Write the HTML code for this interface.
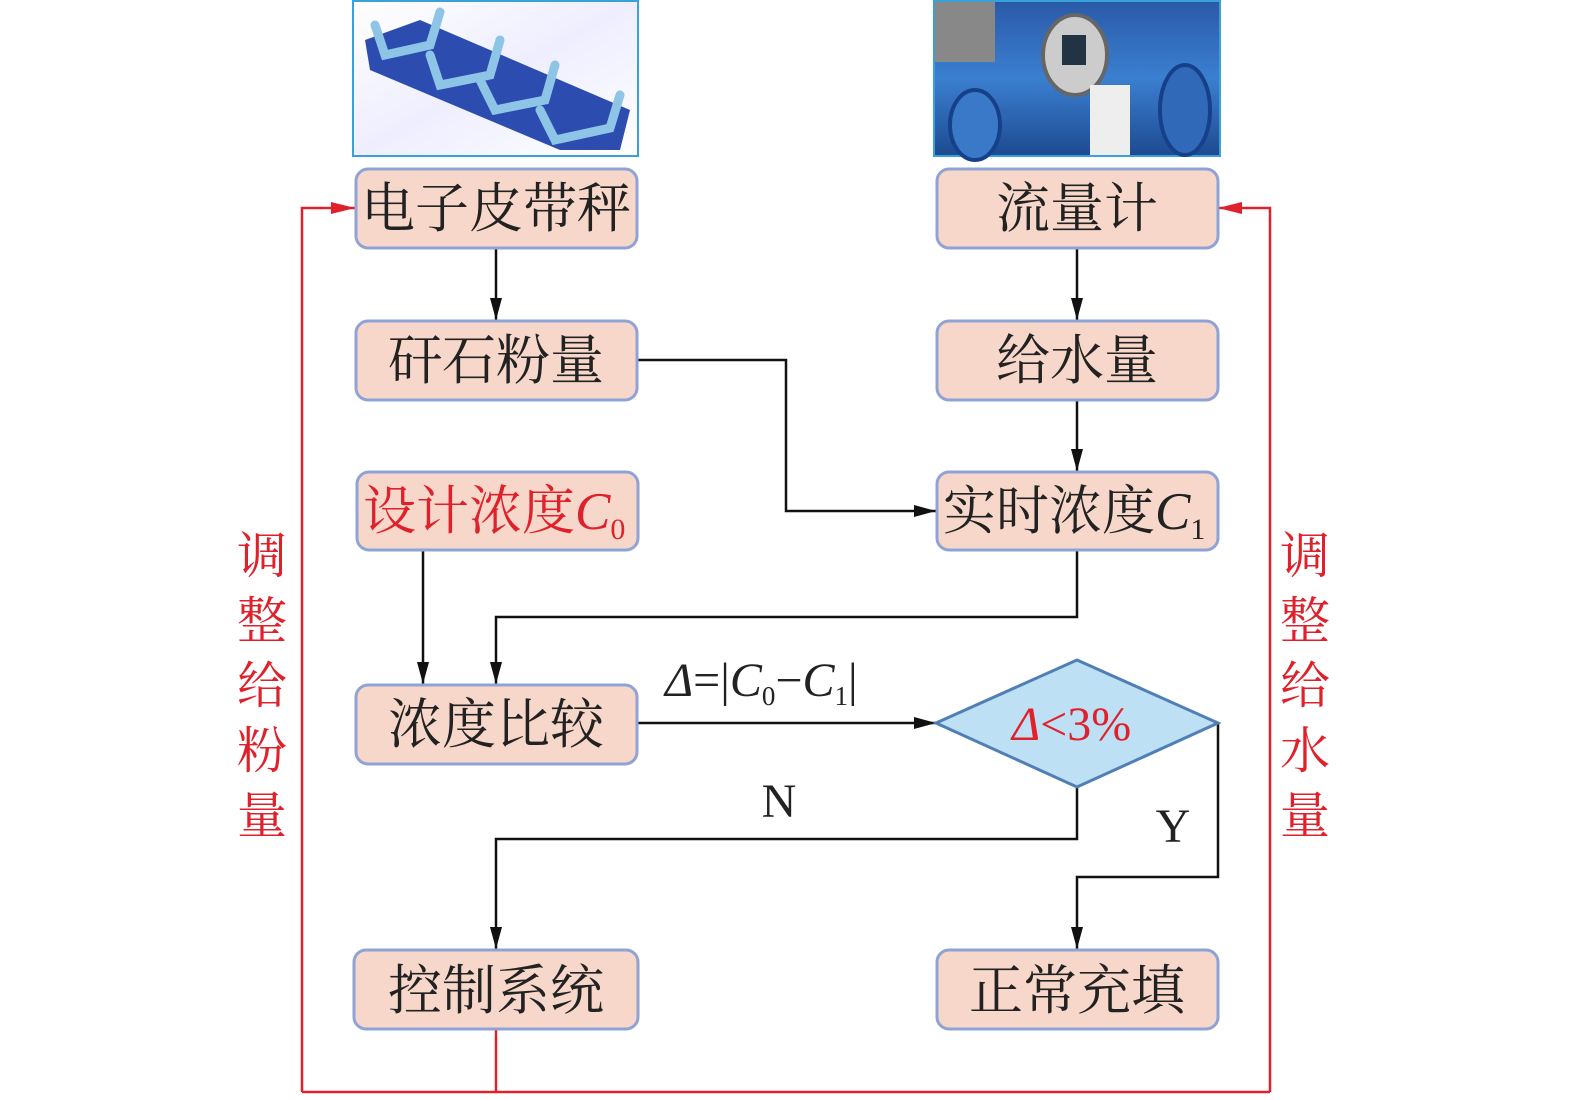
<!DOCTYPE html>
<html><head><meta charset="utf-8"><style>
html,body{margin:0;padding:0;background:#fff;width:1575px;height:1100px;overflow:hidden}
text{font-family:"Liberation Serif","Noto Serif CJK SC","Noto Sans CJK SC",serif}
</style></head><body>
<svg width="1575" height="1100" viewBox="0 0 1575 1100" xmlns="http://www.w3.org/2000/svg">
<defs>
<marker id="a" markerWidth="22" markerHeight="12" refX="22" refY="6" orient="auto" markerUnits="userSpaceOnUse"><path d="M0,0 L22,6 L0,12 Z" fill="#111"/></marker>
<marker id="r" markerWidth="24" markerHeight="12" refX="24" refY="6" orient="auto" markerUnits="userSpaceOnUse"><path d="M0,0 L24,6 L0,12 Z" fill="#e0202a"/></marker>
<linearGradient id="g1" x1="0" y1="0" x2="1" y2="1"><stop offset="0" stop-color="#fff"/><stop offset="0.5" stop-color="#eef"/><stop offset="1" stop-color="#fff"/></linearGradient>
<linearGradient id="g2" x1="0" y1="0" x2="0" y2="1"><stop offset="0" stop-color="#2a5aa8"/><stop offset="0.5" stop-color="#3b7fd0"/><stop offset="1" stop-color="#1d4a90"/></linearGradient>
</defs>
<rect x="353" y="1" width="285" height="155" fill="url(#g1)" stroke="#3aa0d8" stroke-width="2"/>
<polygon points="365,40 420,20 630,110 620,150 560,150 370,70" fill="#2c4cb0"/>
<g stroke="#8ec4e6" stroke-width="9" fill="none" stroke-linecap="round">
<path d="M375,25 L385,55 L430,45 L440,12"/><path d="M430,55 L440,85 L490,75 L500,40"/><path d="M480,80 L495,110 L545,100 L555,65"/><path d="M540,110 L555,140 L610,128 L620,95"/></g>
<rect x="934" y="1" width="286" height="155" fill="url(#g2)" stroke="#3aa0d8" stroke-width="2"/>
<rect x="935" y="2" width="60" height="60" fill="#888"/>
<ellipse cx="1075" cy="55" rx="32" ry="40" fill="#ccc" stroke="#666" stroke-width="4"/>
<rect x="1062" y="35" width="24" height="30" fill="#234"/>
<ellipse cx="975" cy="125" rx="25" ry="35" fill="#3a78c8" stroke="#17408a" stroke-width="4"/>
<rect x="1090" y="85" width="40" height="70" fill="#eee"/>
<ellipse cx="1185" cy="110" rx="25" ry="45" fill="#2f69b8" stroke="#17408a" stroke-width="4"/>
<g stroke="#111" stroke-width="2.5" fill="none">
<path d="M496,248 V320" marker-end="url(#a)"/>
<path d="M1077,248 V320" marker-end="url(#a)"/>
<path d="M637,360 H786 V511 H936" marker-end="url(#a)"/>
<path d="M1077,400 V471" marker-end="url(#a)"/>
<path d="M423,550 V684" marker-end="url(#a)"/>
<path d="M1077,550 V617 H496 V684" marker-end="url(#a)"/>
<path d="M637,723 H936" marker-end="url(#a)"/>
<path d="M1077,787 V839 H496 V949" marker-end="url(#a)"/>
<path d="M1218,723 V877 H1077 V949" marker-end="url(#a)"/>
</g>
<g stroke="#e0202a" stroke-width="2.5" fill="none">
<path d="M496,1029 V1092"/>
<path d="M302,1092 H1270"/>
<path d="M302,1092 V208 H355" marker-end="url(#r)"/>
<path d="M1270,1092 V208 H1218" marker-end="url(#r)"/>
</g>
<g fill="#f7d7ca" stroke="#8fa3d6" stroke-width="3">
<rect x="356" y="169" width="281" height="79" rx="12"/>
<rect x="937" y="169" width="281" height="79" rx="12"/>
<rect x="356" y="321" width="281" height="79" rx="12"/>
<rect x="937" y="321" width="281" height="79" rx="12"/>
<rect x="357" y="472" width="281" height="78" rx="12"/>
<rect x="937" y="472" width="281" height="78" rx="12"/>
<rect x="356" y="685" width="281" height="79" rx="12"/>
<rect x="354" y="950" width="284" height="79" rx="12"/>
<rect x="937" y="950" width="281" height="79" rx="12"/>
</g>
<polygon points="936,723 1077,660 1218,723 1077,787" fill="#bde0f5" stroke="#4f7fb5" stroke-width="3"/>
<g font-size="54" fill="#222" text-anchor="middle">
<text x="496" y="227">电子皮带秤</text>
<text x="1077" y="227">流量计</text>
<text x="496" y="379">矸石粉量</text>
<text x="1077" y="379">给水量</text>
<text x="496" y="743">浓度比较</text>
<text x="496" y="1009">控制系统</text>
<text x="1077" y="1009">正常充填</text>
</g>
<text x="363" y="529" font-size="53" fill="#e0202a">设计浓度<tspan font-style="italic">C</tspan><tspan font-size="30" dy="10">0</tspan></text>
<text x="943" y="529" font-size="53" fill="#222">实时浓度<tspan font-style="italic">C</tspan><tspan font-size="30" dy="10">1</tspan></text>
<text x="1012" y="740" font-size="48" fill="#e0202a"><tspan font-style="italic">Δ</tspan>&lt;3%</text>
<text x="665" y="696" font-size="48" fill="#222"><tspan font-style="italic">Δ</tspan>=|<tspan font-style="italic">C</tspan><tspan font-size="27" dy="9">0</tspan><tspan dy="-9">−</tspan><tspan font-style="italic">C</tspan><tspan font-size="27" dy="9">1</tspan><tspan dy="-9">|</tspan></text>
<text x="779" y="817" font-size="48" fill="#222" text-anchor="middle">N</text>
<text x="1173" y="842" font-size="48" fill="#222" text-anchor="middle">Y</text>
<g font-size="50" fill="#e0202a" text-anchor="middle">
<text x="262" y="573">调</text><text x="262" y="638">整</text><text x="262" y="703">给</text><text x="262" y="768">粉</text><text x="262" y="833">量</text>
<text x="1305" y="573">调</text><text x="1305" y="638">整</text><text x="1305" y="703">给</text><text x="1305" y="768">水</text><text x="1305" y="833">量</text>
</g>
</svg>
</body></html>
